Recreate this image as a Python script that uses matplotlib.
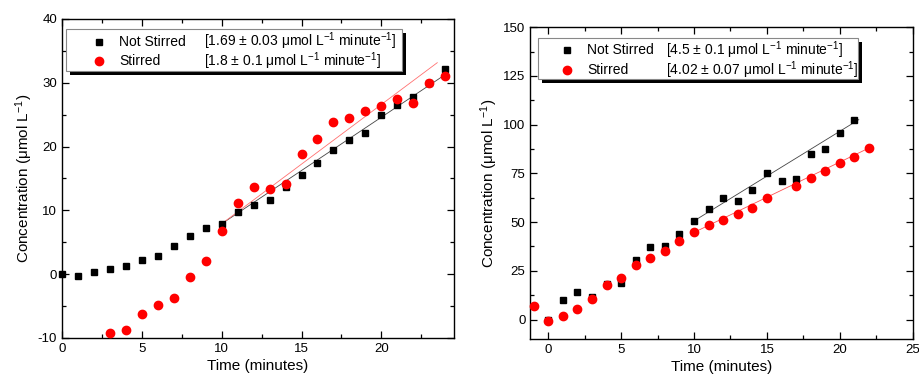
import numpy as np
import matplotlib
matplotlib.use("Agg")
import matplotlib.pyplot as plt
from matplotlib.patches import Rectangle

plt.rcParams["font.family"] = ["Liberation Sans", "DejaVu Sans"]
plt.rcParams["mathtext.fontset"] = "custom"
plt.rcParams["mathtext.rm"] = "Liberation Sans"
plt.rcParams["mathtext.it"] = "Liberation Sans:italic"
plt.rcParams["axes.unicode_minus"] = False

# left panel data
time_a = np.arange(0, 25)
not_stirred_a = [0, -0.3, 0.35, 0.8, 1.25, 2.3, 2.8, 4.4, 5.95, 7.2, 7.9, 9.8, 10.9, 11.7,
                 13.7, 15.6, 17.4, 19.5, 21.0, 22.2, 25.0, 26.5, 27.7, 29.9, 32.2]
time_a_red = np.arange(3, 25)
stirred_a = [-9.15, -8.8, -6.3, -4.8, -3.8, -0.5, 2.0, 6.75, 11.1, 13.6, 13.3, 14.1,
             18.8, 21.2, 23.9, 24.5, 25.6, 26.3, 27.5, 26.9, 29.9, 31.1]

# right panel data
time_b = np.arange(0, 22)
not_stirred_b = [0, 9.9, 14.2, 11.6, 18.2, 18.5, 30.5, 37.0, 37.7, 43.7, 50.5, 56.5,
                 62.2, 61.0, 66.4, 75.0, 71.2, 72.1, 84.8, 87.3, 95.5, 102.4]
time_b_red = [-1, 0, 1, 2, 3, 4, 5, 6, 7, 8, 9, 10, 11, 12, 13, 14, 15, 17, 18, 19, 20, 21, 22]
stirred_b = [6.85, -0.9, 1.7, 5.3, 10.6, 17.5, 21.4, 27.9, 31.7, 35.3, 40.4, 44.7, 48.3,
             51.2, 53.9, 57.2, 62.2, 68.7, 72.4, 76.4, 80.1, 83.2, 88.0]

# linear fits as drawn: (start, end, slope, intercept)
fit_a_black = (10, 24, 1.67, -8.8)
fit_a_red = (10, 23.5, 1.87, -10.8)
fit_b_black = (10, 21.3, 4.6, 4.6)
fit_b_red = (10, 22, 3.61, 8.6)

legend_a = ["[1.69 \u00b1 0.03 \u03bcmol L$^{-1}$ minute$^{-1}$]",
            "[1.8 \u00b1 0.1 \u03bcmol L$^{-1}$ minute$^{-1}$]"]
legend_b = ["[4.5 \u00b1 0.1 \u03bcmol L$^{-1}$ minute$^{-1}$]",
            "[4.02 \u00b1 0.07 \u03bcmol L$^{-1}$ minute$^{-1}$]"]
names = ["Not Stirred", "Stirred"]
ylabel = "Concentration (\u03bcmol L$^{-1}$)"

fig = plt.figure(figsize=(9.2, 3.83), dpi=100)
ax1 = fig.add_axes([0.0674, 0.1175, 0.4261, 0.833])
ax2 = fig.add_axes([0.5764, 0.1149, 0.4157, 0.814])


def draw_fit(ax, fit, color):
    x0, x1, m, b = fit
    xs = np.array([x0, x1])
    ax.plot(xs, m * xs + b, color=color, lw=0.6, zorder=2)


def draw_legend(ax, box, rows_y, mark_x, name_x, val_x, vals):
    x0, y0, x1, y1 = box
    sh = Rectangle((x0 + 0.011, y0 - 0.014), x1 - x0, y1 - y0, transform=ax.transAxes,
                   facecolor="black", edgecolor="none", zorder=5)
    bx = Rectangle((x0, y0), x1 - x0, y1 - y0, transform=ax.transAxes,
                   facecolor="white", edgecolor="#888888", lw=0.8, zorder=6)
    ax.add_patch(sh)
    ax.add_patch(bx)
    ax.plot([mark_x], [rows_y[0]], "s", color="black", ms=5, transform=ax.transAxes,
            zorder=7, clip_on=False)
    ax.plot([mark_x], [rows_y[1]], "o", color="red", ms=6, transform=ax.transAxes,
            zorder=7, clip_on=False)
    for i in range(2):
        ax.text(name_x, rows_y[i], names[i], transform=ax.transAxes, fontsize=10,
                va="center", ha="left", zorder=7)
        ax.text(val_x, rows_y[i], vals[i], transform=ax.transAxes, fontsize=10,
                va="center", ha="left", zorder=7)


def style(ax):
    ax.tick_params(which="both", direction="in", top=True, right=True, labelsize=9.5,
                   width=0.9)
    ax.tick_params(which="major", length=5)
    ax.tick_params(which="minor", length=3)
    for s in ax.spines.values():
        s.set_linewidth(1.0)
    ax.set_xlabel("Time (minutes)", fontsize=11, labelpad=3)
    ax.set_ylabel(ylabel, fontsize=11, labelpad=2)


# left
draw_fit(ax1, fit_a_black, "#444444")
draw_fit(ax1, fit_a_red, "#ff7070")
ax1.plot(time_a, not_stirred_a, "s", color="black", ms=5, zorder=3, clip_on=False)
ax1.plot(time_a_red, stirred_a, "o", color="red", ms=6, zorder=3, clip_on=False)
ax1.set_xlim(0, 24.55)
ax1.set_ylim(-10, 40)
ax1.set_xticks([0, 5, 10, 15, 20])
ax1.set_xticks([2.5, 7.5, 12.5, 17.5, 22.5], minor=True)
ax1.set_yticks([-10, 0, 10, 20, 30, 40])
ax1.set_yticks([-5, 5, 15, 25, 35], minor=True)
style(ax1)
draw_legend(ax1, (0.010, 0.837, 0.867, 0.969), (0.929, 0.867), 0.094, 0.146, 0.362, legend_a)

# right
draw_fit(ax2, fit_b_black, "#444444")
draw_fit(ax2, fit_b_red, "#ff5050")
ax2.plot(time_b, not_stirred_b, "s", color="black", ms=5, zorder=3, clip_on=False)
ax2.plot(time_b_red, stirred_b, "o", color="red", ms=6, zorder=3, clip_on=False)
ax2.set_xlim(-1.23, 25)
ax2.set_ylim(-10, 150)
ax2.set_xticks([0, 5, 10, 15, 20, 25])
ax2.set_xticks([2.5, 7.5, 12.5, 17.5, 22.5], minor=True)
ax2.set_yticks([0, 25, 50, 75, 100, 125, 150])
ax2.set_yticks([12.5, 37.5, 62.5, 87.5, 112.5, 137.5], minor=True)
style(ax2)
draw_legend(ax2, (0.020, 0.834, 0.857, 0.966), (0.927, 0.863), 0.096, 0.148, 0.354, legend_b)

fig.savefig("out.png", dpi=100)
